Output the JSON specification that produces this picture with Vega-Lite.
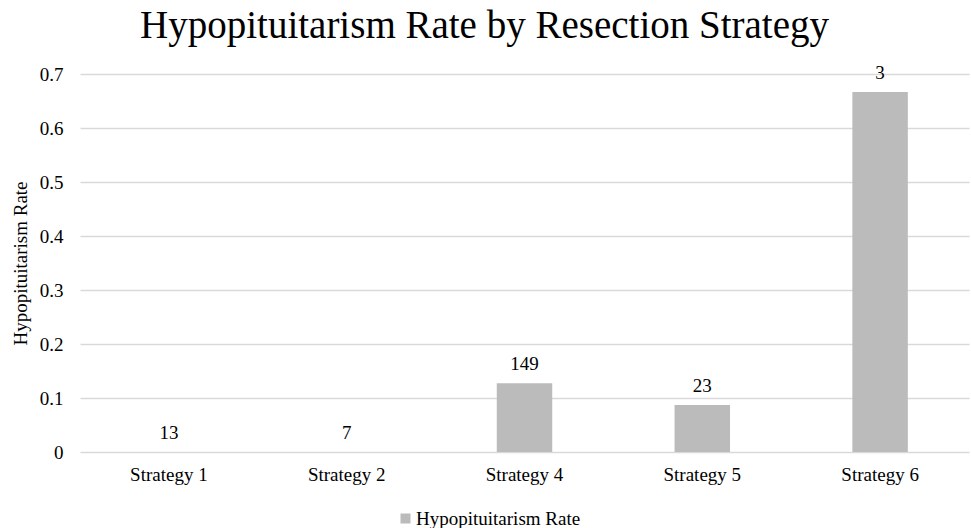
{
  "$schema": "https://vega.github.io/schema/vega-lite/v6.json",
  "width": 889,
  "height": 378,
  "autosize": {"type": "none"},
  "padding": {"left": 80, "top": 74, "right": 2, "bottom": 76},
  "background": "white",
  "config": {
    "font": "Liberation Serif, Times New Roman, serif",
    "view": {"stroke": null}
  },
  "title": {
    "text": "Hypopituitarism Rate by Resection Strategy",
    "font": "Liberation Serif, Times New Roman, serif",
    "fontSize": 39,
    "fontWeight": "normal",
    "color": "#000000",
    "anchor": "middle",
    "frame": "group",
    "dx": -40,
    "dy": 43,
    "offset": 30,
    "baseline": "alphabetic"
  },
  "data": {
    "values": [
      {"strategy": "Strategy 1", "rate": 0, "n": 13, "series": "Hypopituitarism Rate"},
      {"strategy": "Strategy 2", "rate": 0, "n": 7, "series": "Hypopituitarism Rate"},
      {"strategy": "Strategy 4", "rate": 0.1275, "n": 149, "series": "Hypopituitarism Rate"},
      {"strategy": "Strategy 5", "rate": 0.087, "n": 23, "series": "Hypopituitarism Rate"},
      {"strategy": "Strategy 6", "rate": 0.6667, "n": 3, "series": "Hypopituitarism Rate"}
    ]
  },
  "encoding": {
    "x": {
      "field": "strategy",
      "type": "nominal",
      "sort": null,
      "scale": {"paddingInner": 0.688, "paddingOuter": 0.344},
      "axis": {
        "title": null,
        "labelAngle": 0,
        "labelFont": "Liberation Serif, Times New Roman, serif",
        "labelFontSize": 19,
        "labelColor": "#000000",
        "labelPadding": 13,
        "ticks": false,
        "domain": false
      }
    },
    "y": {
      "field": "rate",
      "type": "quantitative",
      "scale": {"domain": [0, 0.7]},
      "axis": {
        "title": "Hypopituitarism Rate",
        "titleFont": "Liberation Serif, Times New Roman, serif",
        "titleFontSize": 19,
        "titleFontWeight": "normal",
        "titleColor": "#000000",
        "titlePadding": 9,
        "values": [0, 0.1, 0.2, 0.3, 0.4, 0.5, 0.6, 0.7],
        "labelExpr": "datum.value === 0 ? '0' : datum.label",
        "labelFont": "Liberation Serif, Times New Roman, serif",
        "labelFontSize": 19,
        "labelColor": "#000000",
        "labelPadding": 17,
        "ticks": false,
        "domain": false,
        "grid": true,
        "gridColor": "#D9D9D9",
        "gridWidth": 1.3
      }
    }
  },
  "layer": [
    {
      "mark": {"type": "bar"},
      "encoding": {
        "color": {
          "field": "series",
          "type": "nominal",
          "scale": {"range": ["#BBBBBB"]},
          "legend": {
            "title": null,
            "orient": "none",
            "legendX": 316,
            "legendY": 435,
            "direction": "horizontal",
            "symbolType": "square",
            "symbolSize": 100,
            "symbolStrokeWidth": 0,
            "labelFont": "Liberation Serif, Times New Roman, serif",
            "labelFontSize": 19,
            "labelColor": "#000000",
            "labelOffset": 1,
            "labelLimit": 400
          }
        }
      }
    },
    {
      "mark": {
        "type": "text",
        "font": "Liberation Serif, Times New Roman, serif",
        "fontSize": 19,
        "color": "#000000",
        "baseline": "alphabetic",
        "dy": -13
      },
      "encoding": {
        "text": {"field": "n", "type": "quantitative"}
      }
    }
  ]
}
